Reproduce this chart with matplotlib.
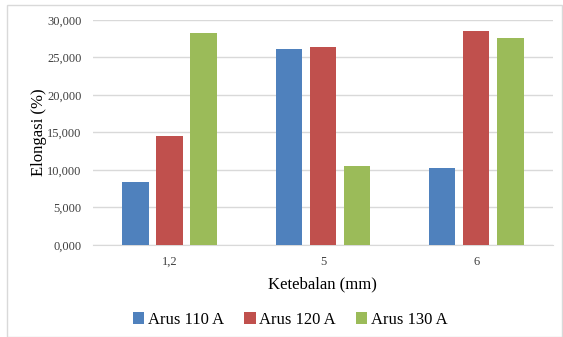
import matplotlib.pyplot as plt
import numpy as np
from matplotlib.patches import Rectangle
from matplotlib.ticker import FuncFormatter

categories = ["1,2", "5", "6"]
series_labels = ["Arus 110 A", "Arus 120 A", "Arus 130 A"]
arus_110 = [8.4, 26.1, 10.3]
arus_120 = [14.5, 26.4, 28.5]
arus_130 = [28.3, 10.5, 27.6]
colors = ["#4F81BD", "#C0504D", "#9BBB59"]

plt.rcParams["font.family"] = ["Liberation Serif", "DejaVu Serif"]

fig = plt.figure(figsize=(5.63, 3.37), dpi=100)
ax = fig.add_axes([0.165, 0.273, 0.817, 0.668])

x = np.arange(len(categories))
width = 0.173
step = 0.222
for i, (vals, lab) in enumerate(zip([arus_110, arus_120, arus_130], series_labels)):
    ax.bar(x + (i - 1) * step, vals, width, color=colors[i], label=lab, zorder=3)

ax.set_xlim(-0.5, len(categories) - 0.5)
ax.set_ylim(0, 30)
ax.set_yticks(np.arange(0, 31, 5))
# thousands with comma, three decimals: 5 -> "5,000"
ax.yaxis.set_major_formatter(FuncFormatter(lambda v, _: f"{int(round(v))},000"))
ax.set_xticks(x)
ax.set_xticklabels(categories)
ax.grid(axis="y", color="#D9D9D9", linewidth=1, zorder=0)
for s in ["top", "right", "left"]:
    ax.spines[s].set_visible(False)
ax.spines["bottom"].set_color("#D9D9D9")
ax.tick_params(length=0, labelsize=9, colors="#404040", pad=8)

ax.set_xlabel("Ketebalan (mm)", fontsize=12, labelpad=6)
ax.set_ylabel("Elongasi (%)", fontsize=12, labelpad=0)

fig.legend(loc="center", bbox_to_anchor=(0.515, 0.05), ncol=3, frameon=False,
           fontsize=12, handlelength=0.7, handleheight=0.7, handletextpad=0.2,
           columnspacing=1.2)

fig.patches.append(Rectangle((0.013, 0.0), 0.985, 0.985, transform=fig.transFigure,
                             fill=False, edgecolor="#D9D9D9", linewidth=1))

fig.savefig("out.png", dpi=100)
